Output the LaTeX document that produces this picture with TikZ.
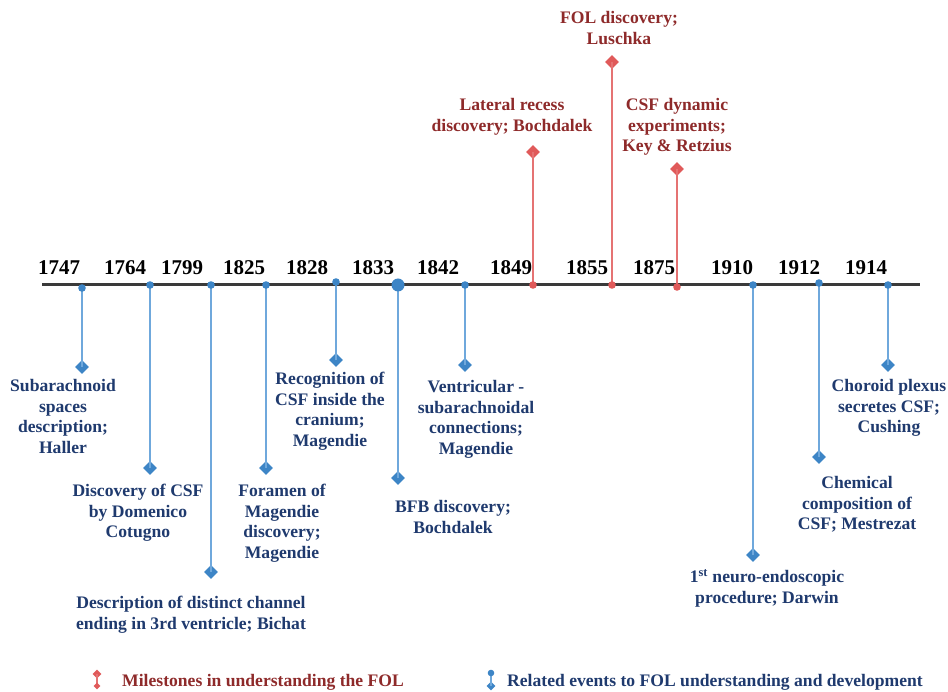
\documentclass[tikz,border=0pt]{standalone}
\usepackage{fontspec}
\setmainfont{Liberation Serif}
\usepackage{tikz}
\usepackage{xcolor}
\usetikzlibrary{shapes.geometric}

\definecolor{relline}{HTML}{6FA8DC}
\definecolor{relmark}{HTML}{3D85C6}
\definecolor{reltext}{HTML}{1F3A6E}
\definecolor{milline}{HTML}{E57373}
\definecolor{milmark}{HTML}{E05A5A}
\definecolor{miltext}{HTML}{8E2A2A}
\definecolor{axisgray}{HTML}{3A3A3A}

\tikzset{
  yearlabel/.style={font=\fontsize{21}{24}\selectfont\bfseries, text=black, inner sep=0pt},
  rellabel/.style={font=\fontsize{17.6}{20.6}\selectfont\bfseries, text=reltext, align=center, inner sep=0pt, anchor=north},
  millabel/.style={font=\fontsize{17.6}{20.6}\selectfont\bfseries, text=miltext, align=center, inner sep=0pt, anchor=north},
  relstem/.style={relline, line width=2.3pt},
  milstem/.style={milline, line width=2.3pt},
  reldiamond/.style={diamond, fill=relmark, inner sep=0pt, minimum size=14pt},
  mildiamond/.style={diamond, fill=milmark, inner sep=0pt, minimum size=14pt},
}

\begin{document}
\begin{tikzpicture}[x=1pt, y=-1pt]
\useasboundingbox (0,0) rectangle (948,692);
% time axis
\draw[axisgray, line width=3pt] (42,285) coordinate (axl) -- (920,285) coordinate (axr);
% years
\node[yearlabel] (y1747) at (59,268) {1747};
\node[yearlabel] (y1764) at (125,268) {1764};
\node[yearlabel] (y1799) at (182,268) {1799};
\node[yearlabel] (y1825) at (244,268) {1825};
\node[yearlabel] (y1828) at (307,268) {1828};
\node[yearlabel] (y1833) at (373,268) {1833};
\node[yearlabel] (y1842) at (438,268) {1842};
\node[yearlabel] (y1849) at (511,268) {1849};
\node[yearlabel] (y1855) at (587,268) {1855};
\node[yearlabel] (y1875) at (654,268) {1875};
\node[yearlabel] (y1910) at (732,268) {1910};
\node[yearlabel] (y1912) at (799,268) {1912};
\node[yearlabel] (y1914) at (866,268) {1914};
% related events (blue, below the axis)
\coordinate (a1747) at (82,288);
\coordinate (a1764) at (150,285);
\coordinate (a1799) at (211,285);
\coordinate (a1825) at (266,285);
\coordinate (a1828) at (336,282);
\coordinate (a1833) at (398,285);
\coordinate (a1842) at (465,285);
\coordinate (a1910) at (753,285);
\coordinate (a1912) at (819,283);
\coordinate (a1914) at (888,285);
\node[reldiamond] (d1747) at (82,367) {};
\node[reldiamond] (d1764) at (150,468) {};
\node[reldiamond] (d1799) at (211,572) {};
\node[reldiamond] (d1825) at (266,468) {};
\node[reldiamond] (d1828) at (336,360) {};
\node[reldiamond] (d1833) at (398,478) {};
\node[reldiamond] (d1842) at (465,365) {};
\node[reldiamond] (d1910) at (753,555) {};
\node[reldiamond] (d1912) at (819,457) {};
\node[reldiamond] (d1914) at (888,365) {};
\draw[relstem] (a1747) -- (d1747.center);
\draw[relstem] (a1764) -- (d1764.center);
\draw[relstem] (a1799) -- (d1799.center);
\draw[relstem] (a1825) -- (d1825.center);
\draw[relstem] (a1828) -- (d1828.center);
\draw[relstem] (a1833) -- (d1833.center);
\draw[relstem] (a1842) -- (d1842.center);
\draw[relstem] (a1910) -- (d1910.center);
\draw[relstem] (a1912) -- (d1912.center);
\draw[relstem] (a1914) -- (d1914.center);
\fill[relmark] (a1747) circle (3.8);
\fill[relmark] (a1764) circle (3.8);
\fill[relmark] (a1799) circle (3.8);
\fill[relmark] (a1825) circle (3.8);
\fill[relmark] (a1828) circle (3.8);
\fill[relmark] (a1833) circle (6.5);
\fill[relmark] (a1842) circle (3.8);
\fill[relmark] (a1910) circle (3.8);
\fill[relmark] (a1912) circle (3.8);
\fill[relmark] (a1914) circle (3.8);
\node[rellabel] (t1747) at (63,379) {Subarachnoid\\spaces\\description;\\Haller};
\node[rellabel] (t1764) at (138,484) {Discovery of CSF\\by Domenico\\Cotugno};
\node[rellabel] (t1799) at (191,596) {Description of distinct channel\\ending in 3rd ventricle; Bichat};
\node[rellabel] (t1825) at (282,484) {Foramen of\\Magendie\\discovery;\\Magendie};
\node[rellabel] (t1828) at (330,372) {Recognition of\\CSF inside the\\cranium;\\Magendie};
\node[rellabel] (t1833) at (453,500) {BFB discovery;\\Bochdalek};
\node[rellabel] (t1842) at (476,380) {Ventricular -\\subarachnoidal\\connections;\\Magendie};
\node[rellabel] (t1910) at (767,569) {1\textsuperscript{st} neuro-endoscopic\\procedure; Darwin};
\node[rellabel] (t1912) at (857,476) {Chemical\\composition of\\CSF; Mestrezat};
\node[rellabel] (t1914) at (889,379) {Choroid plexus\\secretes CSF;\\Cushing};
% milestones (red, above the axis)
\coordinate (a1849) at (533,285);
\coordinate (a1855) at (612,285);
\coordinate (a1875) at (677,287);
\node[mildiamond] (d1849) at (533,152) {};
\node[mildiamond] (d1855) at (612,62) {};
\node[mildiamond] (d1875) at (677,169) {};
\draw[milstem] (a1849) -- (d1849.center);
\draw[milstem] (a1855) -- (d1855.center);
\draw[milstem] (a1875) -- (d1875.center);
\fill[milmark] (a1849) circle (3.8);
\fill[milmark] (a1855) circle (3.8);
\fill[milmark] (a1875) circle (3.8);
\node[millabel] (t1849) at (512,98) {Lateral recess\\discovery; Bochdalek};
\node[millabel] (t1855) at (619,11) {FOL discovery;\\Luschka};
\node[millabel] (t1875) at (677,98) {CSF dynamic\\experiments;\\Key \& Retzius};
% legend
\coordinate (lm1) at (97,686);
\node[mildiamond, minimum size=9pt] (lm2) at (97,674) {};
\draw[milstem] (lm1) -- (lm2.center);
\node[mildiamond, minimum size=7pt] at (lm1) {};
\node[font=\fontsize{17.6}{20}\selectfont\bfseries, text=miltext, anchor=west, inner sep=0pt] (leg1) at (122,682) {Milestones in understanding the FOL};
\coordinate (lr1) at (491,673);
\node[reldiamond, minimum size=9pt] (lr2) at (491,686) {};
\draw[relstem] (lr1) -- (lr2.center);
\fill[relmark] (lr1) circle (3.3);
\node[font=\fontsize{17.6}{20}\selectfont\bfseries, text=reltext, anchor=west, inner sep=0pt] (leg2) at (507,682) {Related events to FOL understanding and development};
\end{tikzpicture}
\end{document}
